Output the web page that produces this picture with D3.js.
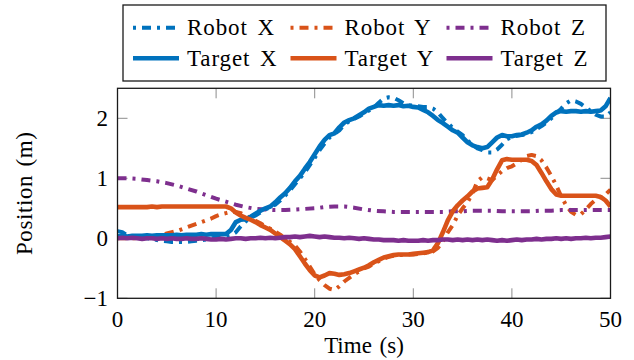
<!DOCTYPE html>
<html>
<head>
<meta charset="utf-8">
<script src="https://cdn.jsdelivr.net/npm/d3@7"></script>
<style>
  @font-face {
    font-family: "PlotSerif";
    src: local("Liberation Serif"), local("LiberationSerif"), local("LiberationSerif-Regular"), local("Tinos"), local("Times New Roman");
  }
  html, body { margin: 0; padding: 0; background: #fff; }
  svg .lbl {
    font-family: "Liberation Serif", "PlotSerif", "Tinos", "Times New Roman", Times !important;
    font-size: 23px;
  }
</style>
</head>
<body>
<svg id="chart" width="634" height="360"></svg>
<script>
// Sample times (s)
const time = d3.range(0, 50.01, 0.5);
const timeZ = d3.range(0, 50.01, 1);

// Position traces (m)
const robotX = [0.12,0.10,0.05,0.03,0.02,0.01,0.00,-0.01,-0.03,-0.04,-0.05,-0.06,-0.06,-0.06,-0.06,-0.05,-0.04,-0.03,-0.02,0.00,
  0.01,0.02,0.03,0.05,0.10,0.20,0.28,0.34,0.38,0.43,0.48,0.52,0.56,0.63,0.71,0.80,0.90,1.00,1.10,1.22,
  1.34,1.47,1.58,1.68,1.74,1.80,1.89,1.95,1.99,2.03,2.08,2.13,2.18,2.26,2.33,2.35,2.34,2.30,2.25,2.22,
  2.21,2.20,2.19,2.19,2.16,2.10,2.00,1.92,1.84,1.78,1.72,1.63,1.56,1.50,1.47,1.43,1.43,1.48,1.56,1.65,
  1.69,1.71,1.72,1.74,1.77,1.82,1.87,1.93,2.00,2.08,2.16,2.25,2.30,2.28,2.24,2.18,2.12,2.06,2.03,2.03,2.10];

const robotY = [0.00,0.00,0.00,0.00,0.00,0.00,0.01,0.02,0.03,0.05,0.08,0.10,0.12,0.15,0.18,0.21,0.24,0.27,0.30,0.33,
  0.37,0.40,0.42,0.44,0.44,0.42,0.38,0.33,0.29,0.25,0.20,0.16,0.11,0.06,0.00,-0.06,-0.12,-0.22,-0.34,-0.47,
  -0.60,-0.70,-0.78,-0.84,-0.86,-0.80,-0.72,-0.66,-0.60,-0.55,-0.50,-0.47,-0.42,-0.38,-0.34,-0.31,-0.29,-0.28,-0.28,-0.27,
  -0.27,-0.26,-0.25,-0.24,-0.22,-0.16,-0.05,0.10,0.22,0.38,0.50,0.60,0.75,0.95,1.02,1.00,0.97,1.05,1.12,1.17,
  1.20,1.25,1.31,1.37,1.39,1.37,1.30,1.18,1.04,0.88,0.70,0.55,0.44,0.39,0.40,0.48,0.57,0.64,0.69,0.73,0.81];

const robotZ = [1.00,1.00,0.99,0.97,0.95,0.92,0.88,0.83,0.78,0.72,0.66,0.61,0.56,0.52,0.49,0.48,0.47,0.47,0.48,0.49,
  0.50,0.52,0.53,0.53,0.51,0.48,0.46,0.45,0.44,0.44,0.44,0.44,0.44,0.44,0.45,0.45,0.46,0.46,0.46,0.45,
  0.45,0.45,0.45,0.46,0.46,0.47,0.47,0.47,0.47,0.47,0.47];

const targetX = [0.03,0.04,0.03,0.04,0.04,0.04,0.05,0.04,0.05,0.05,0.05,0.05,0.06,0.05,0.06,0.06,0.06,0.07,0.06,0.07,
  0.07,0.07,0.07,0.14,0.27,0.31,0.32,0.36,0.41,0.46,0.50,0.53,0.60,0.68,0.75,0.84,0.95,1.04,1.16,1.27,
  1.40,1.53,1.64,1.72,1.75,1.85,1.93,1.97,2.00,2.05,2.10,2.16,2.19,2.22,2.21,2.22,2.21,2.22,2.20,2.21,
  2.19,2.18,2.14,2.10,2.04,1.97,1.92,1.86,1.80,1.76,1.68,1.60,1.55,1.52,1.50,1.52,1.60,1.68,1.72,1.70,
  1.70,1.72,1.73,1.76,1.80,1.86,1.90,1.96,2.04,2.10,2.12,2.11,2.12,2.12,2.11,2.12,2.11,2.12,2.13,2.20,2.34];

const targetY = [0.52,0.52,0.52,0.52,0.52,0.52,0.52,0.53,0.52,0.53,0.53,0.53,0.53,0.53,0.53,0.53,0.53,0.53,0.53,0.53,
  0.53,0.53,0.53,0.50,0.43,0.38,0.34,0.31,0.27,0.22,0.18,0.14,0.08,0.02,-0.04,-0.10,-0.18,-0.30,-0.42,-0.53,
  -0.62,-0.65,-0.62,-0.58,-0.59,-0.61,-0.60,-0.58,-0.55,-0.52,-0.49,-0.45,-0.40,-0.36,-0.32,-0.30,-0.28,-0.27,-0.27,-0.27,
  -0.26,-0.25,-0.24,-0.23,-0.20,-0.08,0.10,0.30,0.45,0.55,0.63,0.70,0.78,0.83,0.84,0.85,0.98,1.15,1.30,1.32,
  1.31,1.31,1.31,1.31,1.29,1.22,1.09,0.95,0.82,0.73,0.71,0.71,0.71,0.71,0.71,0.71,0.71,0.71,0.69,0.63,0.53];

const targetZ = [0.00,0.01,0.00,0.01,0.00,-0.01,0.00,0.00,-0.01,0.00,-0.01,0.00,-0.01,-0.01,0.00,-0.01,-0.01,0.00,-0.01,-0.02,
  -0.02,-0.01,-0.02,-0.01,0.00,0.00,-0.01,0.00,0.00,0.01,0.00,0.01,0.00,0.01,0.02,0.02,0.03,0.02,0.03,0.04,
  0.03,0.02,0.03,0.02,0.01,0.01,0.00,0.01,0.00,-0.01,0.00,-0.01,-0.02,-0.02,-0.03,-0.03,-0.03,-0.04,-0.03,-0.04,
  -0.04,-0.04,-0.03,-0.04,-0.03,-0.03,-0.02,-0.02,-0.03,-0.02,-0.03,-0.02,-0.03,-0.02,-0.03,-0.02,-0.03,-0.04,-0.03,-0.04,
  -0.03,-0.02,-0.03,-0.02,-0.02,-0.01,-0.02,-0.01,-0.01,0.00,-0.01,0.00,-0.01,0.00,0.00,0.01,0.00,0.01,0.01,0.02,0.03];

const xTicks = [0, 10, 20, 30, 40, 50];
const yTicks = [-1, 0, 1, 2];

const series = [
  { name: "Robot X",  t: time,  v: robotX,  color: "#0072BD", dashed: true },
  { name: "Robot Y",  t: time,  v: robotY,  color: "#D95319", dashed: true },
  { name: "Robot Z",  t: timeZ, v: robotZ,  color: "#7E2F8E", dashed: true },
  { name: "Target X", t: time,  v: targetX, color: "#0072BD", dashed: false },
  { name: "Target Y", t: time,  v: targetY, color: "#D95319", dashed: false },
  { name: "Target Z", t: time,  v: targetZ, color: "#7E2F8E", dashed: false }
];

const svg = d3.select("#chart");
const plot = { left: 117.5, right: 610.5, top: 88.3, bottom: 298.3 };
const x = d3.scaleLinear().domain([0, 50]).range([plot.left, plot.right]);
const y = d3.scaleLinear().domain([-1, 2.5]).range([plot.bottom, plot.top]);

const dashPattern = "9,6,3,6";
const robotWidth = 4;
const targetWidth = 4.6;

function addText(parent, px, py, str, anchor) {
  return parent.append("text")
    .attr("class", "lbl")
    .attr("x", px).attr("y", py)
    .attr("text-anchor", anchor || "start")
    .attr("fill", "#000")
    .text(str);
}

svg.append("defs").append("clipPath").attr("id", "plotClip")
  .append("rect")
  .attr("x", plot.left).attr("y", plot.top)
  .attr("width", plot.right - plot.left).attr("height", plot.bottom - plot.top);

// Tick marks on all four sides, pointing inward
const tickLen = 10;
const tickG = svg.append("g").attr("stroke", "#8c8c8c").attr("stroke-width", 1);
xTicks.forEach(t => {
  tickG.append("line").attr("x1", x(t)).attr("x2", x(t)).attr("y1", plot.bottom).attr("y2", plot.bottom - tickLen);
  tickG.append("line").attr("x1", x(t)).attr("x2", x(t)).attr("y1", plot.top).attr("y2", plot.top + tickLen);
});
yTicks.forEach(v => {
  tickG.append("line").attr("x1", plot.left).attr("x2", plot.left + tickLen).attr("y1", y(v)).attr("y2", y(v));
  tickG.append("line").attr("x1", plot.right).attr("x2", plot.right - tickLen).attr("y1", y(v)).attr("y2", y(v));
});

// Traces
const line = d3.line().x(d => x(d[0])).y(d => y(d[1]));
const traces = svg.append("g").attr("clip-path", "url(#plotClip)");
series.forEach(s => {
  const pts = s.t.map((t, i) => [t, s.v[i]]);
  traces.append("path")
    .attr("d", line(pts))
    .attr("fill", "none")
    .attr("stroke", s.color)
    .attr("stroke-width", s.dashed ? robotWidth : targetWidth)
    .attr("stroke-linejoin", "round")
    .attr("stroke-dasharray", s.dashed ? dashPattern : null);
});

// Frame
svg.append("rect")
  .attr("x", plot.left).attr("y", plot.top)
  .attr("width", plot.right - plot.left).attr("height", plot.bottom - plot.top)
  .attr("fill", "none").attr("stroke", "#1a1a1a").attr("stroke-width", 1.3);

// Tick labels and axis titles
const textLayer = svg.append("g");
const fmt = v => (v < 0 ? "\u2212" + Math.abs(v) : String(v));
xTicks.forEach(t => addText(textLayer, x(t), 326.5, fmt(t), "middle"));
yTicks.forEach(v => addText(textLayer, 108, y(v) + 8, fmt(v), "end"));
addText(textLayer, (plot.left + plot.right) / 2, 353, "Time (s)", "middle")
  .style("word-spacing", "2px");
addText(textLayer, 0, 0, "Position (m)", "middle")
  .attr("transform", `translate(32,${(plot.top + plot.bottom) / 2}) rotate(-90)`)
  .style("letter-spacing", "0.6px").style("word-spacing", "2px");

// Legend
const legend = svg.append("g");
legend.append("rect")
  .attr("x", 123).attr("y", 5).attr("width", 483).attr("height", 76)
  .attr("fill", "#fff").attr("stroke", "#1a1a1a").attr("stroke-width", 1.3);
const colX = [133, 290.5, 446.5];
const rowY = [27.7, 58.3];
series.forEach((s, i) => {
  const col = i % 3, row = Math.floor(i / 3);
  const lx = colX[col], ly = rowY[row];
  legend.append("line")
    .attr("x1", lx).attr("x2", lx + 46).attr("y1", ly).attr("y2", ly)
    .attr("stroke", s.color)
    .attr("stroke-width", s.dashed ? robotWidth : targetWidth)
    .attr("stroke-dasharray", s.dashed ? "3,6,9,6" : null);
  addText(legend, lx + 54, ly + 7.5, s.name)
    .style("letter-spacing", "0.9px").style("word-spacing", "3px");
});

// Re-apply the label face once the font set is ready
if (document.fonts && document.fonts.load) {
  document.fonts.load('23px "Liberation Serif"').then(() => {
    svg.selectAll("text.lbl").style("font-family", '"Liberation Serif", "PlotSerif"');
  });
}
</script>
</body>
</html>
